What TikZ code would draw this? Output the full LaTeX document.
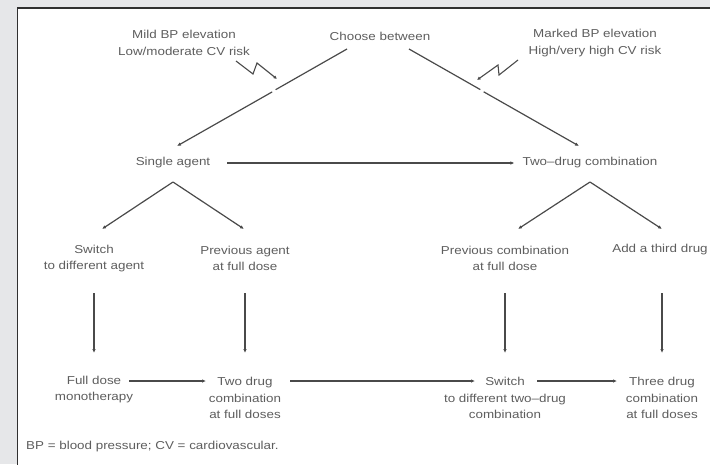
\documentclass[tikz,border=0pt]{standalone}
\usepackage{fontspec}
\setmainfont{Liberation Sans}[FakeStretch=1.165]
\usetikzlibrary{arrows.meta}
\definecolor{bgc}{HTML}{E6E7E9}
\definecolor{ink}{HTML}{4A4A4A}
\definecolor{txt}{HTML}{5E5E5E}
\definecolor{frame}{HTML}{303030}
\begin{document}
\begin{tikzpicture}[x=1pt,y=-1pt,
  lbl/.style={text=txt, font=\fontsize{11.5}{16.5}\selectfont, align=center, inner sep=0pt},
  conn/.style={draw=ink, line width=1.2pt, -{Latex[length=4pt,width=3.5pt]}},
  plain/.style={draw=ink, line width=1.2pt},
  bolt/.style={draw=ink, line width=1.1pt, line join=miter, -{Latex[length=3.5pt,width=3.5pt]}}]
\useasboundingbox (0,0) rectangle (710,464);
% background and panel
\fill[bgc] (0,0) rectangle (710,464);
\fill[white] (17.5,8) rectangle (712,466);
\draw[frame, line width=1.8pt] (17.5,466) -- (17.5,8) -- (712,8);

% top row
\node[lbl] (mild)   at (184,43) {Mild BP elevation\\Low/moderate CV risk};
\node[lbl] (choose) at (380,36) {Choose between};
\node[lbl] (marked) at (595,43) {Marked BP elevation\\High/very high CV risk};

% second row
\node[lbl] (single) at (173,163) {Single agent};
\node[lbl] (two)    at (590,163) {Two--drug combination};

% third row
\node[lbl] (switchA) at (94,258.5)  {Switch\\to different agent};
\node[lbl] (prevag)  at (245,258.5) {Previous agent\\at full dose};
\node[lbl] (prevcb)  at (505,258.5) {Previous combination\\at full dose};
\node[lbl] (third)   at (660,250)   {Add a third drug};

% fourth row
\node[lbl] (fulldose) at (94,389.5) {Full dose\\monotherapy};
\node[lbl] (twodrug)  at (245,398)  {Two drug\\combination\\at full doses};
\node[lbl] (switchB)  at (505,398)  {Switch\\to different two--drug\\combination};
\node[lbl] (three)    at (662,398)  {Three drug\\combination\\at full doses};

% footnote
\node[lbl, anchor=west] (foot) at (26,447) {BP = blood pressure; CV = cardiovascular.};

% connector end points
\coordinate (cL)  at (347,49);
\coordinate (gL1) at (275.6,89.7);
\coordinate (gL2) at (272.2,91.9);
\coordinate (sIn) at (177,146);
\coordinate (cR)  at (409,49);
\coordinate (gR1) at (480.3,89.6);
\coordinate (gR2) at (483.7,91.8);
\coordinate (tIn) at (579,146);

\coordinate (sApex) at (173,182);
\coordinate (sL)    at (102,229);
\coordinate (sR)    at (244,229);
\coordinate (tApex) at (590,182);
\coordinate (tL)    at (518,229);
\coordinate (tR)    at (662,229);

\coordinate (v1a) at (94,293);  \coordinate (v1b) at (94,353);
\coordinate (v2a) at (245,293); \coordinate (v2b) at (245,353);
\coordinate (v3a) at (505,293); \coordinate (v3b) at (505,353);
\coordinate (v4a) at (662,293); \coordinate (v4b) at (662,353);

% lightning bolts
\coordinate (bL0) at (236,61); \coordinate (bL1) at (253,74);
\coordinate (bL2) at (257,63); \coordinate (bL3) at (277,79);
\coordinate (bR0) at (518,60); \coordinate (bR1) at (499,75);
\coordinate (bR2) at (498,65); \coordinate (bR3) at (477,80);

% main diagonals
\draw[plain] (cL) -- (gL1);
\draw[conn]  (gL2) -- (sIn);
\draw[plain] (cR) -- (gR1);
\draw[conn]  (gR2) -- (tIn);

\draw[bolt] (bL0) -- (bL1) -- (bL2) -- (bL3);
\draw[bolt] (bR0) -- (bR1) -- (bR2) -- (bR3);

% horizontal arrow row 2
\draw[conn, shorten <=17pt, shorten >=8pt] (single.east) -- (two.west);

% branches
\draw[conn] (sApex) -- (sL);
\draw[conn] (sApex) -- (sR);
\draw[conn] (tApex) -- (tL);
\draw[conn] (tApex) -- (tR);

% vertical arrows
\draw[conn] (v1a) -- (v1b);
\draw[conn] (v2a) -- (v2b);
\draw[conn] (v3a) -- (v3b);
\draw[conn] (v4a) -- (v4b);

% bottom horizontal arrows
\coordinate (h1a) at (129,381); \coordinate (h1b) at (206,381);
\coordinate (h2a) at (290,381); \coordinate (h2b) at (475,381);
\coordinate (h3a) at (537,381); \coordinate (h3b) at (617,381);
\draw[conn] (h1a) -- (h1b);
\draw[conn] (h2a) -- (h2b);
\draw[conn] (h3a) -- (h3b);
\end{tikzpicture}
\end{document}
